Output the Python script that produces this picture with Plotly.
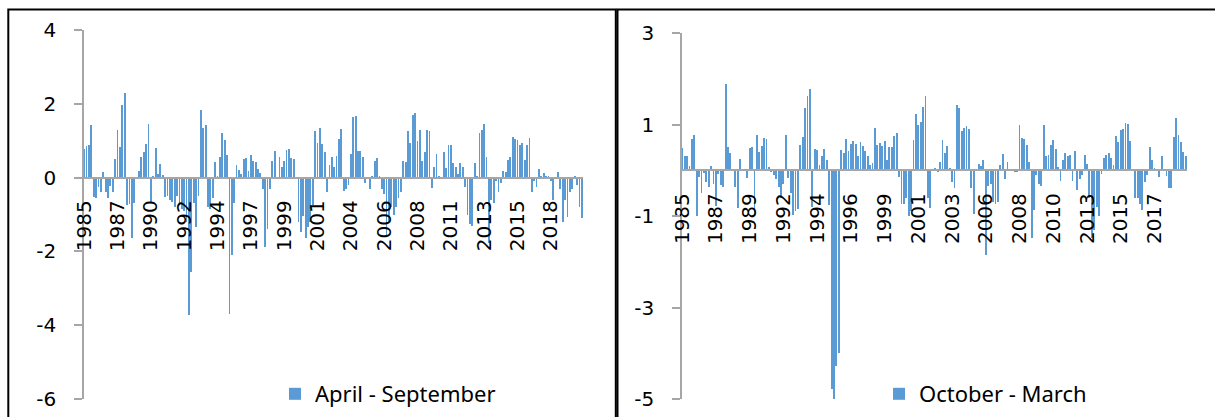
import plotly.graph_objects as go

# Seasonal anomaly series, six values per year from 1985 to 2019
apr_sep = [
    0.78, 0.87, 0.88, 1.42, -0.52, -0.55,
    -0.25, -0.40, 0.15, -0.38, -0.55, -0.22,
    -0.38, 0.50, 1.30, 0.83, 1.97, 2.28,
    -0.75, -0.72, -1.65, -0.68, -0.05, 0.17,
    0.56, 0.70, 0.90, 1.44, -0.70, 0.02,
    0.79, 0.10, 0.38, 0.08, -0.52, -0.50,
    -0.60, -0.65, -0.80, -0.50, -0.70, -0.85,
    -0.90, -1.20, -3.73, -2.56, -0.70, -1.34,
    -0.50, 1.83, 1.35, 1.42, -0.80, -0.85,
    -0.55, 0.42, 0.02, 0.55, 1.22, 1.03,
    0.62, -3.69, -2.10, -0.70, 0.35, 0.20,
    0.10, 0.50, 0.52, 0.18, 0.62, 0.45,
    0.42, 0.22, 0.12, -0.30, -1.88, -1.40,
    -0.30, 0.45, 0.72, -0.05, 0.55, 0.30,
    0.45, 0.75, 0.78, 0.52, 0.50, -0.05,
    -1.20, -1.48, -1.05, -1.65, -1.35, -1.20,
    -0.75, 1.25, 0.95, 1.35, 0.90, 0.70,
    -0.40, 0.35, 0.55, 0.28, 0.58, 1.05,
    1.32, -0.35, -0.30, -0.20, 0.65, 1.63,
    1.66, 0.72, 0.72, 0.55, -0.15, -0.05,
    -0.30, 0.05, 0.45, 0.52, 0.02, -0.30,
    -0.45, -1.55, -1.20, -0.80, -1.00, -0.80,
    -0.55, -0.38, 0.45, 0.42, 1.25, 0.95,
    1.70, 1.75, 1.00, 1.30, 0.45, 0.70,
    1.30, 1.25, -0.28, 0.28, 0.65, 0.05,
    0.00, 0.70, 0.25, 0.88, 0.88, 0.40,
    0.30, 0.10, 0.40, 0.30, -0.25, -1.00,
    -1.25, -1.30, 0.40, 0.02, 1.20, 1.30,
    1.44, 0.55, -1.78, -0.60, -0.70, -0.10,
    -0.40, -0.15, 0.18, 0.15, 0.47, 0.55,
    1.10, 1.05, 1.03, 0.88, 0.95, 0.48,
    0.88, 1.07, -0.40, -0.10, -0.25, 0.22,
    0.05, 0.12, 0.05, 0.05, -0.10, -0.60,
    -0.05, 0.15, -0.30, -1.20, -0.60, -1.08,
    -0.40, -0.30, 0.05, -0.20, -0.80, -1.10,
]

oct_mar = [
    0.48, 0.30, 0.30, 0.10, 0.68, 0.77,
    -1.00, -0.16, -0.49, -0.07, -0.27, -0.36,
    0.10, -0.30, -0.78, -0.09, -0.32, -0.36,
    1.88, 0.50, 0.37, 0.00, -0.36, -0.82,
    0.24, 0.02, 0.00, -0.18, 0.49, 0.50,
    -0.98, 0.77, 0.39, 0.53, 0.71, 0.69,
    0.07, -0.05, -0.10, -0.20, -0.36, -0.60,
    -0.30, 0.77, -0.18, -0.50, -0.98, -0.90,
    -0.85, 0.54, 0.72, 1.35, 1.62, 1.77,
    -0.80, 0.47, 0.43, 0.11, 0.31, 0.47,
    0.23, -0.76, -4.79, -5.02, -4.28, -3.99,
    0.44, 0.38, 0.68, 0.42, 0.58, 0.63,
    0.57, 0.31, 0.62, 0.53, 0.42, 0.31,
    0.12, 0.15, 0.93, 0.55, 0.59, 0.52,
    0.64, 0.23, 0.51, 0.50, 0.74, 0.82,
    -0.15, -0.75, -0.75, -0.60, -1.00, -0.90,
    0.66, 1.23, 0.99, 1.06, 1.38, 1.63,
    -0.60, -0.83, 0.03, 0.04, -0.03, 0.17,
    0.65, 0.37, 0.53, 0.04, -0.25, -0.40,
    1.42, 1.35, 0.86, 0.93, 0.97, 0.90,
    -0.38, -0.95, 0.00, 0.14, 0.10, 0.23,
    -1.85, -0.35, -0.30, -0.70, -0.75, -0.70,
    0.12, 0.36, -0.20, 0.18, 0.00, 0.02,
    -0.02, -0.05, 0.98, 0.71, 0.69, 0.56,
    0.18, -1.49, -0.87, -0.10, -0.30, -0.35,
    0.98, 0.31, 0.34, 0.54, 0.66, 0.47,
    0.07, -0.23, 0.23, 0.38, 0.30, 0.34,
    -0.23, 0.42, -0.43, -0.20, -0.11, 0.33,
    0.14, -0.60, -1.48, -1.30, -0.80, -1.00,
    -0.08, 0.26, 0.34, 0.37, 0.26, 0.12,
    0.75, 0.61, 0.88, 0.91, 1.03, 1.02,
    0.64, 0.00, -0.60, -0.60, -0.75, -0.87,
    -0.27, -0.10, 0.50, 0.22, 0.04, 0.00,
    -0.15, 0.31, 0.00, -0.12, -0.40, -0.40,
    0.72, 1.15, 0.77, 0.62, 0.40, 0.30,
]

left_year_labels = ["1985", "1987", "1990", "1992", "1994", "1997", "1999", "2001",
                    "2004", "2006", "2008", "2011", "2013", "2015", "2018"]
right_year_labels = ["1985", "1987", "1989", "1992", "1994", "1996", "1999", "2001",
                     "2003", "2006", "2008", "2010", "2013", "2015", "2017"]
label_step = 14

left_y_ticks = [-6, -4, -2, 0, 2, 4]
right_y_ticks = [-5, -3, -1, 1, 3]

W, H = 1215, 417
BAR_COLOR = "#5B9BD5"
AXIS_COLOR = "#A6A6A6"
TICK_FONT = dict(family="DejaVu Sans", size=20, color="#000000")
LEGEND_FONT = dict(family="Noto Sans", size=22, color="#000000")


def px_x(p):
    return p / W


def px_y(p):
    return 1 - p / H


def zero_position(domain, yrange):
    lo, hi = yrange
    return domain[0] + (0 - lo) / (hi - lo) * (domain[1] - domain[0])


left_xdom = [px_x(83), px_x(583)]
left_ydom = [px_y(399), px_y(30)]
left_yrange = [-6, 4]
right_xdom = [px_x(681), px_x(1187)]
right_ydom = [px_y(399), px_y(33.3)]
right_yrange = [-5, 3]

fig = go.Figure()
fig.add_trace(go.Bar(
    x=list(range(len(apr_sep))), y=apr_sep, name="April - September",
    marker=dict(color=BAR_COLOR, line=dict(width=0)), width=0.36,
    xaxis="x", yaxis="y", legend="legend",
))
fig.add_trace(go.Bar(
    x=list(range(len(oct_mar))), y=oct_mar, name="October - March",
    marker=dict(color=BAR_COLOR, line=dict(width=0)), width=0.36,
    xaxis="x2", yaxis="y2", legend="legend2",
))


def x_axis(domain, ydom, yrange, labels, n):
    return dict(
        domain=domain, range=[-0.5, n - 0.5], anchor="free",
        position=zero_position(ydom, yrange), automargin=False,
        showline=True, linecolor=AXIS_COLOR, linewidth=1.5,
        showgrid=False, zeroline=False, ticks="",
        tickmode="array", tickvals=[k * label_step for k in range(len(labels))],
        ticktext=labels, tickangle=-90, tickfont=TICK_FONT,
        ticklabelstandoff=14,
    )


def y_axis(domain, yrange, ticks, xpos):
    return dict(
        domain=domain, range=yrange, anchor="free", position=xpos, automargin=False,
        showline=True, linecolor=AXIS_COLOR, linewidth=1.5,
        showgrid=False, zeroline=False,
        ticks="outside", ticklen=8, tickcolor=AXIS_COLOR, tickwidth=1.5,
        tickmode="array", tickvals=ticks, ticktext=[str(t) for t in ticks],
        tickfont=TICK_FONT, ticklabelstandoff=14,
    )


def legend_box(x_px):
    return dict(xref="paper", yref="paper", x=px_x(x_px), y=px_y(394),
                xanchor="left", yanchor="middle", font=LEGEND_FONT,
                bgcolor="rgba(0,0,0,0)", borderwidth=0)


fig.update_layout(
    width=W, height=H, autosize=False,
    margin=dict(l=0, r=0, t=0, b=0, pad=0),
    paper_bgcolor="white", plot_bgcolor="rgba(0,0,0,0)",
    bargap=0,
    xaxis=x_axis(left_xdom, left_ydom, left_yrange, left_year_labels, len(apr_sep)),
    yaxis=y_axis(left_ydom, left_yrange, left_y_ticks, left_xdom[0]),
    xaxis2=x_axis(right_xdom, right_ydom, right_yrange, right_year_labels, len(oct_mar)),
    yaxis2=y_axis(right_ydom, right_yrange, right_y_ticks, right_xdom[0]),
    legend=legend_box(275),
    legend2=legend_box(879),
    showlegend=True,
)

# Chart frames around each panel
frame = dict(type="rect", xref="paper", yref="paper",
             line=dict(color="#000000", width=2), fillcolor="rgba(0,0,0,0)", layer="above")
fig.add_shape(**frame, x0=px_x(8.3), x1=px_x(615.8), y0=px_y(425), y1=px_y(9.5))
fig.add_shape(**frame, x0=px_x(617.5), x1=px_x(1225), y0=px_y(425), y1=px_y(9.5))

fig.write_html("out.html")
